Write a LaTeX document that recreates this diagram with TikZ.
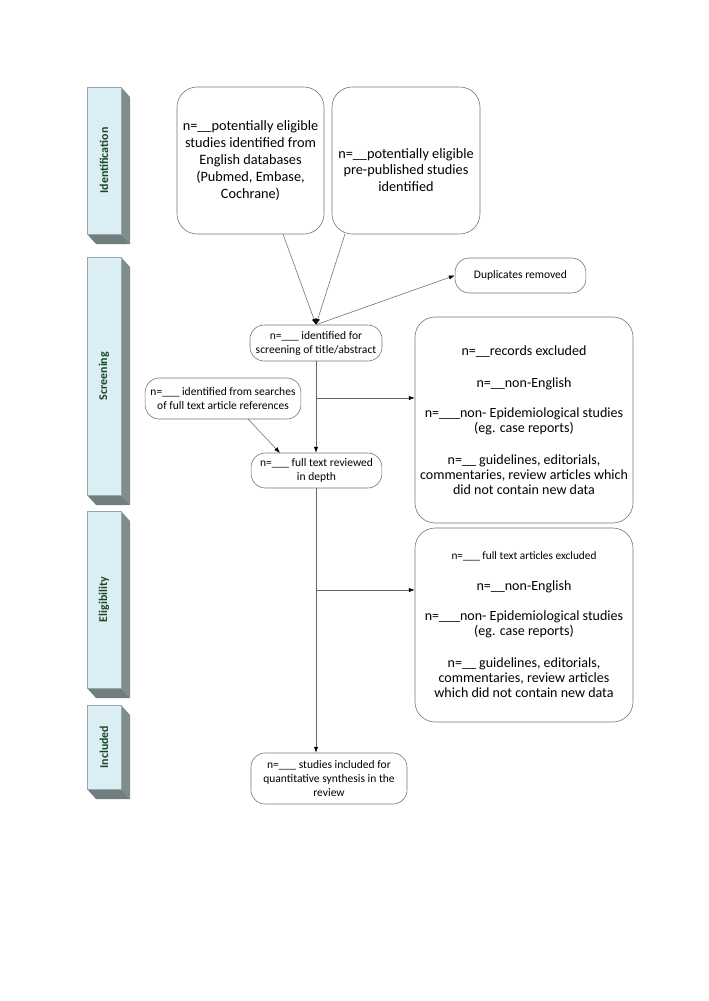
\documentclass[tikz,border=0pt]{standalone}
\usepackage{fontspec}
\setmainfont{Carlito}
\usetikzlibrary{arrows.meta}
\definecolor{barfront}{RGB}{219,238,243}
\definecolor{barside}{RGB}{127,141,141}
\definecolor{barbottom}{RGB}{112,126,126}
\definecolor{barline}{RGB}{150,168,168}
\definecolor{bartext}{RGB}{28,68,38}
\begin{document}
\begin{tikzpicture}[x=0.8408pt, y=-0.8408pt]
\tikzstyle{box}=[draw=black!55, line width=0.5pt, align=center]
\tikzstyle{topbox}=[box, rounded corners=17pt, font=\fontsize{12}{14.2}\selectfont]
\tikzstyle{bigbox}=[box, rounded corners=17pt, inner sep=1.5pt, font=\fontsize{11.8}{12.7}\selectfont]
\tikzstyle{smallbox}=[box, rounded corners=12pt, inner sep=2pt, font=\fontsize{9.7}{11.8}\selectfont]
\tikzstyle{arr}=[draw=black!60, line width=0.45pt, -{Latex[length=5pt, width=3.6pt, color=black]}]
\useasboundingbox (0,0) rectangle (708,1001);

% phase bars on the left
\foreach \top/\bot/\phase in {87/234/Identification, 257/495/Screening, 511/688/Eligibility, 705/789/Included}{
  \fill[barside] (121,\top) -- (130,\top+10) -- (130,\bot+10) -- (121,\bot) -- cycle;
  \fill[barbottom] (87,\bot) -- (121,\bot) -- (130,\bot+10) -- (96,\bot+10) -- cycle;
  \draw[barline, line width=0.4pt, fill=barfront] (87,\top) rectangle (121,\bot);
  \node[rotate=90, text=bartext, font=\fontsize{10}{12}\selectfont\bfseries] (\phase) at (104,{(\top+\bot)/2}) {\phase};
}

% identification
\node[topbox, minimum width=123.6pt, minimum height=123.6pt] (english) at (250.5,160.5) {n=\_\_potentially eligible\\studies identified from\\English databases\\(Pubmed, Embase,\\Cochrane)};
\node[topbox, minimum width=124.4pt, minimum height=123.6pt] (prepub) at (406,160.5) {};
\node[align=center, font=\fontsize{12}{14.2}\selectfont] (prepubtext) at (406,170) {n=\_\_potentially eligible\\pre-published studies\\identified};

% screening
\node[smallbox, minimum width=110pt, minimum height=29.4pt] (dup) at (520.5,275.5) {Duplicates removed};
\node[smallbox, minimum width=111pt, minimum height=30.3pt] (screen) at (316,343) {n=\_\_\_ identified for\\screening of title/abstract};
\node[smallbox, minimum width=131pt, minimum height=34.5pt] (search) at (223,398.5) {n=\_\_\_ identified from searches\\of full text article references};
\node[smallbox, minimum width=110pt, minimum height=29.4pt] (full) at (316.5,470.5) {n=\_\_\_ full text reviewed\\in depth};
\node[bigbox, minimum width=183.3pt, minimum height=173.2pt] (records) at (524,420) {n=\_\_records excluded\\[14.5pt]n=\_\_non-English\\[12.3pt]n=\_\_\_non- Epidemiological studies\\(eg. case reports)\\[14pt]n=\_\_ guidelines, editorials,\\commentaries, review articles which\\did not contain new data};

% eligibility
\node[bigbox, minimum width=183.3pt, minimum height=163.1pt] (fulltextex) at (524,625) {{\fontsize{9.5}{11}\selectfont n=\_\_\_ full text articles excluded}\\[13.4pt]n=\_\_non-English\\[12.3pt]n=\_\_\_non- Epidemiological studies\\(eg. case reports)\\[14pt]n=\_\_ guidelines, editorials,\\commentaries, review articles\\which did not contain new data};

% included
\node[smallbox, minimum width=131.2pt, minimum height=42.9pt] (incl) at (329,778.5) {n=\_\_\_ studies included for\\quantitative synthesis in the\\review};

% connectors
\coordinate (englishout) at (283,234);
\coordinate (prepubout) at (345,234);
\coordinate (split1) at (316,398);
\coordinate (split2) at (316,590);
\coordinate (searchout) at (248,419);
\coordinate (fullin) at (280,453);
\draw[arr] (englishout) -- (screen.north);
\draw[arr] (prepubout) -- (screen.north);
\draw[arr] (screen.north) -- (dup.west);
\draw[arr] (screen.south) -- (screen.south |- full.north);
\draw[arr] (split1) -- (split1 -| records.west);
\draw[arr] (searchout) -- (fullin);
\draw[arr] (full.south -| screen.south) -- (screen.south |- incl.north);
\draw[arr] (split2) -- (split2 -| fulltextex.west);
\end{tikzpicture}
\end{document}
